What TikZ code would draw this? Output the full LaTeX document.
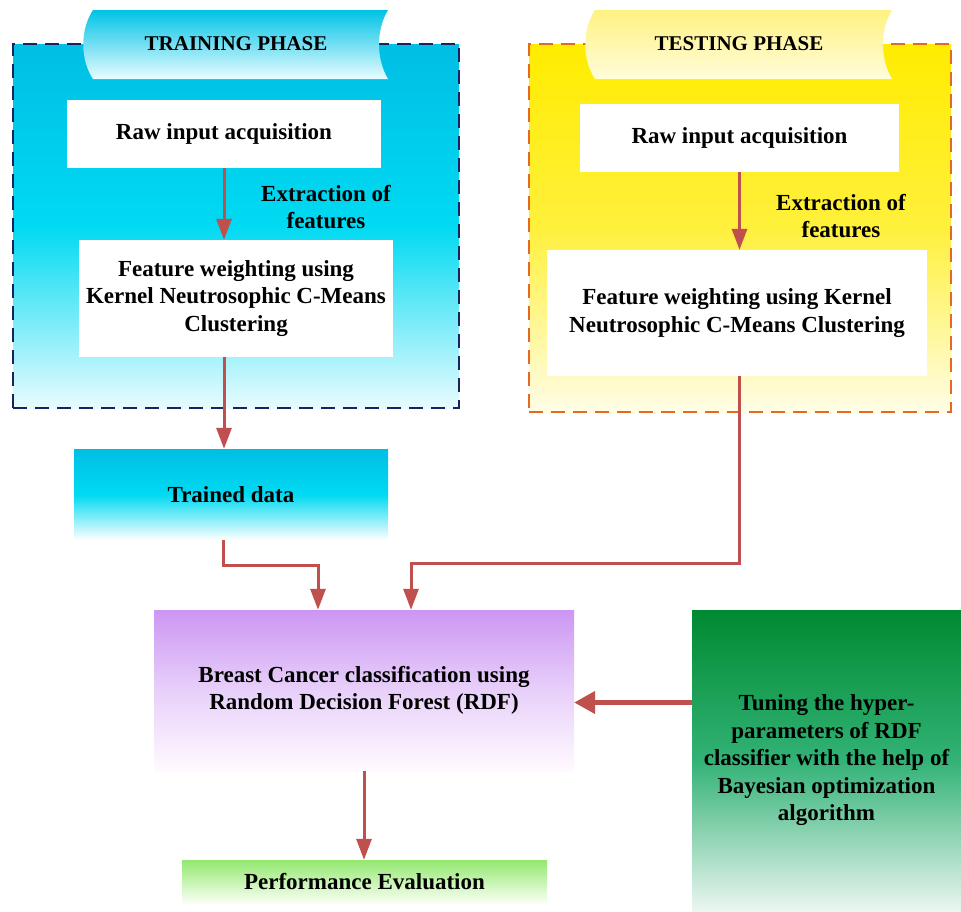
\documentclass[tikz,border=0pt]{standalone}
\usepackage{fontspec}
\setmainfont{Liberation Serif}
\usetikzlibrary{arrows.meta}

\definecolor{arrowred}{RGB}{192,80,77}
\definecolor{trainline}{RGB}{25,35,95}
\definecolor{testline}{RGB}{230,105,35}
\definecolor{cyantop}{RGB}{0,190,228}
\definecolor{cyanmid}{RGB}{0,218,242}
\definecolor{cyanlow}{RGB}{232,252,255}

\begin{document}
\begin{tikzpicture}[x=1pt, y=-1pt,
    every node/.style={font=\fontsize{23}{27.5}\selectfont\bfseries, align=center},
    phasebox/.style={draw, line width=2pt, dash pattern=on 14pt off 8pt},
    whitebox/.style={fill=white, minimum width=314pt, minimum height=68pt},
    headtext/.style={font=\fontsize{21}{25}\selectfont\bfseries},
    arr/.style={draw=arrowred, line width=3pt, -{Triangle[length=21pt,width=15pt]}},
    bigarr/.style={draw=arrowred, line width=4.5pt, -{Triangle[length=21pt,width=22pt]}}]
    \useasboundingbox (0,0) rectangle (961,911);

    % フェーズの枠
    \node[phasebox, draw=trainline, top color=cyantop, bottom color=cyanlow, middle color=cyanmid,
          minimum width=446pt, minimum height=364pt] (trainarea) at (236,226) {};
    \node[phasebox, draw=testline, top color={rgb,255:red,255;green,236;blue,0}, bottom color={rgb,255:red,255;green,253;blue,230},
          middle color={rgb,255:red,255;green,240;blue,60},
          minimum width=422pt, minimum height=368pt] (testarea) at (740,228) {};

    % 見出し
    \shade[top color={rgb,255:red,0;green,195;blue,230}, bottom color={rgb,255:red,232;green,252;blue,255}]
        (93,10) -- (388,10) .. controls (376,30) and (376,59) .. (388,79) -- (93,79) .. controls (80,59) and (80,30) .. (93,10);
    \shade[top color={rgb,255:red,255;green,242;blue,130}, bottom color={rgb,255:red,255;green,252;blue,218}]
        (595,10) -- (892,10) .. controls (880,30) and (880,59) .. (892,79) -- (595,79) .. controls (582,59) and (582,30) .. (595,10);
    \node[headtext] (trainhead) at (236,44) {TRAINING PHASE};
    \node[headtext] (testhead) at (739,44) {TESTING PHASE};

    % ノード
    \node[whitebox] (trainraw) at (224,134) {Raw input acquisition};
    \node[whitebox, minimum height=117pt] (trainfeat) at (236,298.5) {Feature weighting using\\Kernel Neutrosophic C-Means\\Clustering};
    \node (trainext) at (326,207) {Extraction of\\features};

    \node[whitebox, minimum width=319pt] (testraw) at (739.5,138) {Raw input acquisition};
    \node[whitebox, minimum width=380pt, minimum height=126pt] (testfeat) at (737,313) {Feature weighting using Kernel\\Neutrosophic C-Means Clustering};
    \node (testext) at (841,216) {Extraction of\\features};

    \node[top color=cyantop, bottom color=white, middle color=cyanmid,
          minimum width=314pt, minimum height=91pt] (trained) at (231,494.5) {Trained data};
    \node[top color={rgb,255:red,204;green,150;blue,242}, bottom color={rgb,255:red,255;green,250;blue,255},
          middle color={rgb,255:red,232;green,208;blue,250},
          minimum width=420pt, minimum height=161pt] (rdf) at (364,690.5) {Breast Cancer classification using\\Random Decision Forest (RDF)};
    \node[top color={rgb,255:red,0;green,138;blue,48}, bottom color={rgb,255:red,236;green,246;blue,241},
          middle color={rgb,255:red,50;green,178;blue,118},
          minimum width=269pt, minimum height=301pt] (tune) at (826.5,760.5) {Tuning the hyper-\\parameters of RDF\\classifier with the help of\\Bayesian optimization\\algorithm};
    \node[top color={rgb,255:red,146;green,232;blue,110}, bottom color={rgb,255:red,250;green,255;blue,245},
          minimum width=365pt, minimum height=43pt] (perf) at (364.5,881.5) {Performance Evaluation};

    % エッジ
    \draw[arr] (trainraw.south) -- (trainraw.south |- trainfeat.north);
    \draw[arr] ([xshift=-12pt]trainfeat.south) -- ([xshift=-12pt]trainfeat.south |- trained.north);
    \draw[arr] (testraw.south) -- (testraw.south |- testfeat.north);
    \draw[arr] ([xshift=2pt]testfeat.south) -- ++(0,187) -| ([xshift=47pt]rdf.north);
    \draw[arr] ([xshift=-8pt]trained.south) -- ++(0,25) -| ([xshift=-46pt]rdf.north);
    \draw[bigarr] ([yshift=-12pt]rdf.east -| tune.west) -- ([yshift=-12pt]rdf.east);
    \draw[arr] (rdf.south) -- (rdf.south |- perf.north);
\end{tikzpicture}
\end{document}
